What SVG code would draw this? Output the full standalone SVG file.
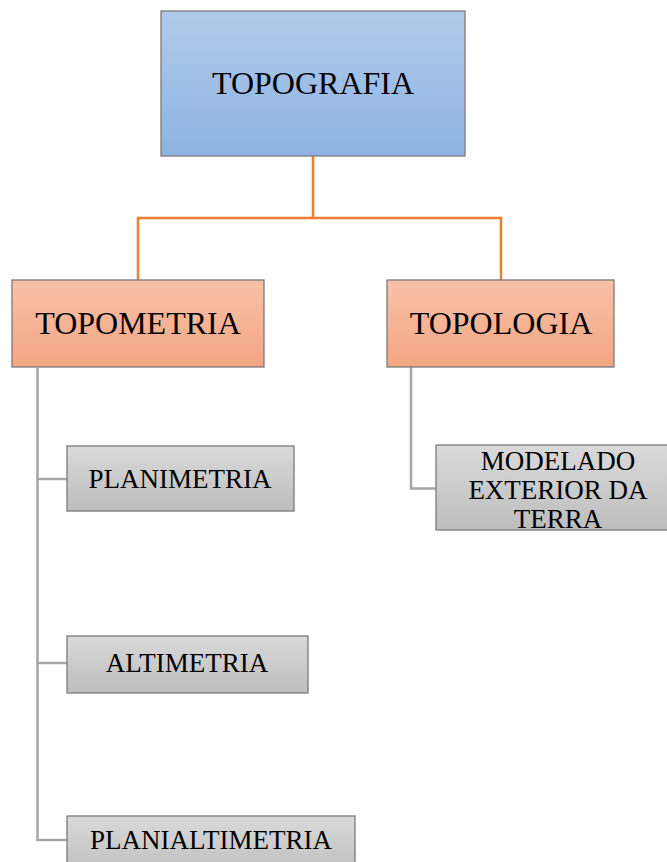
<svg xmlns="http://www.w3.org/2000/svg" width="667" height="862" viewBox="0 0 667 862">
<defs>
<linearGradient id="gBlue" x1="0" y1="0" x2="0" y2="1"><stop offset="0" stop-color="#b0cbea"/><stop offset="1" stop-color="#8db3e2"/></linearGradient>
<linearGradient id="gOrange" x1="0" y1="0" x2="0" y2="1"><stop offset="0" stop-color="#f8c2a9"/><stop offset="1" stop-color="#f4a582"/></linearGradient>
<linearGradient id="gGray" x1="0" y1="0" x2="0" y2="1"><stop offset="0" stop-color="#dadada"/><stop offset="1" stop-color="#bdbdbd"/></linearGradient>
</defs>
<style>
text{font-family:"Liberation Serif","Times New Roman",serif;fill:#000;text-anchor:middle}
.big{font-size:32px}
.small{font-size:27px}
.box{stroke:#7a7a7a;stroke-width:1.3}
.oc{fill:none;stroke:#ed7d31;stroke-width:2.5}
.gc{fill:none;stroke:#a6a6a6;stroke-width:2.5}
</style>
<g id="connectors">
<path class="oc" d="M313 156V218M138 280V218H501V280"/>
<path class="gc" d="M37.5 368V840H67M37.5 479H67M37.5 663H67"/>
<path class="gc" d="M411 367V488.5H436"/>
</g>
<g id="topografia"><rect class="box" x="161" y="11" width="304" height="145" fill="url(#gBlue)"/><text class="big" x="313" y="94">TOPOGRAFIA</text></g>
<g id="topometria"><rect class="box" x="12" y="280" width="252" height="87" fill="url(#gOrange)"/><text class="big" x="138" y="334">TOPOMETRIA</text></g>
<g id="topologia"><rect class="box" x="387" y="280" width="227" height="87" fill="url(#gOrange)"/><text class="big" x="501" y="334">TOPOLOGIA</text></g>
<g id="planimetria"><rect class="box" x="67" y="446" width="227" height="65" fill="url(#gGray)"/><text class="small" x="180" y="488">PLANIMETRIA</text></g>
<g id="altimetria"><rect class="box" x="67" y="636" width="241" height="57" fill="url(#gGray)"/><text class="small" x="187" y="672">ALTIMETRIA</text></g>
<g id="planialtimetria"><rect class="box" x="67" y="816" width="288" height="60" fill="url(#gGray)"/><text class="small" x="211" y="849">PLANIALTIMETRIA</text></g>
<g id="modelado"><rect class="box" x="436" y="445" width="245" height="85" fill="url(#gGray)"/><text class="small" x="558" y="470">MODELADO</text><text class="small" x="558" y="499">EXTERIOR DA</text><text class="small" x="558" y="528">TERRA</text></g>
</svg>
